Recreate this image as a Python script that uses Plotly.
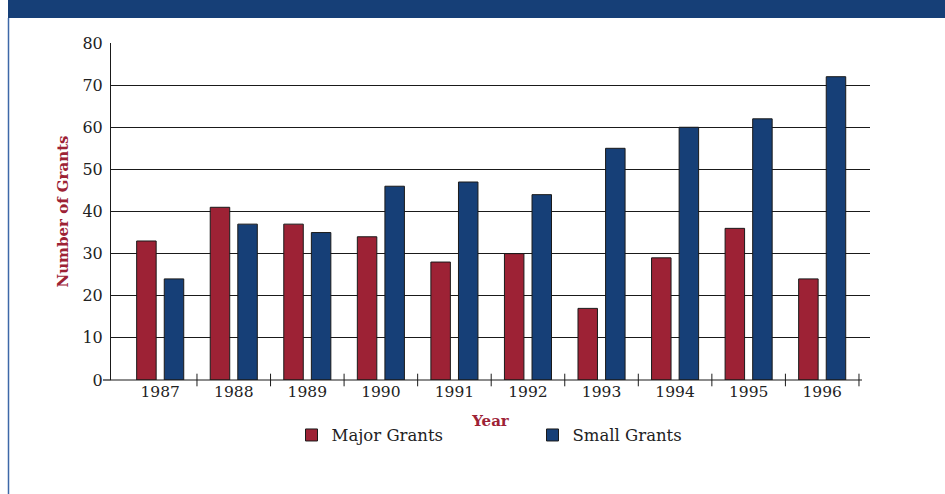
import plotly.graph_objects as go

# Grant counts by year
years = ["1987", "1988", "1989", "1990", "1991", "1992", "1993", "1994", "1995", "1996"]
major_grants = [33, 41, 37, 34, 28, 30, 17, 29, 36, 24]
small_grants = [24, 37, 35, 46, 47, 44, 55, 60, 62, 72]
y_ticks = [0, 10, 20, 30, 40, 50, 60, 70, 80]

CRIMSON = "#9D2235"
NAVY = "#163F77"
EDGE = "#1a1a1a"
SERIF = "DejaVu Serif"

idx = list(range(len(years)))
bar_w = 0.265

fig = go.Figure()
fig.add_trace(go.Bar(
    x=idx, y=major_grants, name="Major Grants",
    width=bar_w, offset=-0.32,
    marker=dict(color=CRIMSON, line=dict(color=EDGE, width=1)),
))
fig.add_trace(go.Bar(
    x=idx, y=small_grants, name="Small Grants",
    width=bar_w, offset=0.055,
    marker=dict(color=NAVY, line=dict(color=EDGE, width=1)),
))

# category-boundary tick marks that cross the x axis
boundaries = [i + 0.5 for i in idx]
fig.add_trace(go.Scatter(
    x=boundaries, y=[0] * len(boundaries), mode="markers",
    marker=dict(symbol="line-ns-open", size=9, color=EDGE,
                line=dict(color=EDGE, width=1)),
    showlegend=False, hoverinfo="skip", cliponaxis=False,
))

fig.update_layout(
    width=945, height=494,
    margin=dict(l=111, r=75, t=43, b=114),
    paper_bgcolor="white", plot_bgcolor="white",
    barmode="overlay",
    font=dict(family=SERIF, size=15, color="#222"),
    showlegend=True,
    legend=dict(
        orientation="h", x=0.5 + 42 / 759, xanchor="center", y=-0.112, yanchor="top",
        font=dict(family=SERIF, size=16.5, color="#222"),
        entrywidth=196, itemwidth=30, traceorder="normal",
    ),
    xaxis=dict(
        range=[-0.669, 9.65],
        tickmode="array", tickvals=idx, ticktext=years,
        ticks="", showgrid=False, zeroline=False, showline=False,
        tickfont=dict(family=SERIF, size=15.5, color="#222"),
        title=dict(text="<b>Year</b>", font=dict(family=SERIF, size=15, color=CRIMSON), standoff=15),
    ),
    yaxis=dict(
        range=[0, 80],
        tickmode="array", tickvals=y_ticks,
        showgrid=True, gridcolor="#1a1a1a", gridwidth=1,
        zeroline=False, showline=True, linecolor=EDGE, linewidth=1,
        ticks="", ticklabelstandoff=4,
        tickfont=dict(family=SERIF, size=16, color="#222"),
        title=dict(text="<b>Number of Grants</b>", font=dict(family=SERIF, size=15, color=CRIMSON), standoff=10),
    ),
    shapes=[
        # header band
        dict(type="rect", xref="paper", yref="paper",
             x0=(8 - 111) / 759, x1=(945 - 111) / 759,
             y0=1 + (43 - 18) / 337, y1=1 + 43 / 337,
             fillcolor=NAVY, line=dict(width=0), layer="above"),
        # left frame rule
        dict(type="line", xref="paper", yref="paper",
             x0=(8.5 - 111) / 759, x1=(8.5 - 111) / 759,
             y0=-114 / 337, y1=1 + (43 - 18) / 337,
             line=dict(color="#3D68A8", width=1.5)),
        # x axis baseline
        dict(type="line", xref="paper", yref="paper",
             x0=0, x1=(862 - 111) / 759, y0=0, y1=0,
             line=dict(color=EDGE, width=1.2), layer="above"),
        # tick at zero on the y axis
        dict(type="line", xref="paper", yref="paper",
             x0=-8 / 759, x1=0, y0=0, y1=0,
             line=dict(color=EDGE, width=1.2)),
    ],
)

fig.write_html("out.html")
